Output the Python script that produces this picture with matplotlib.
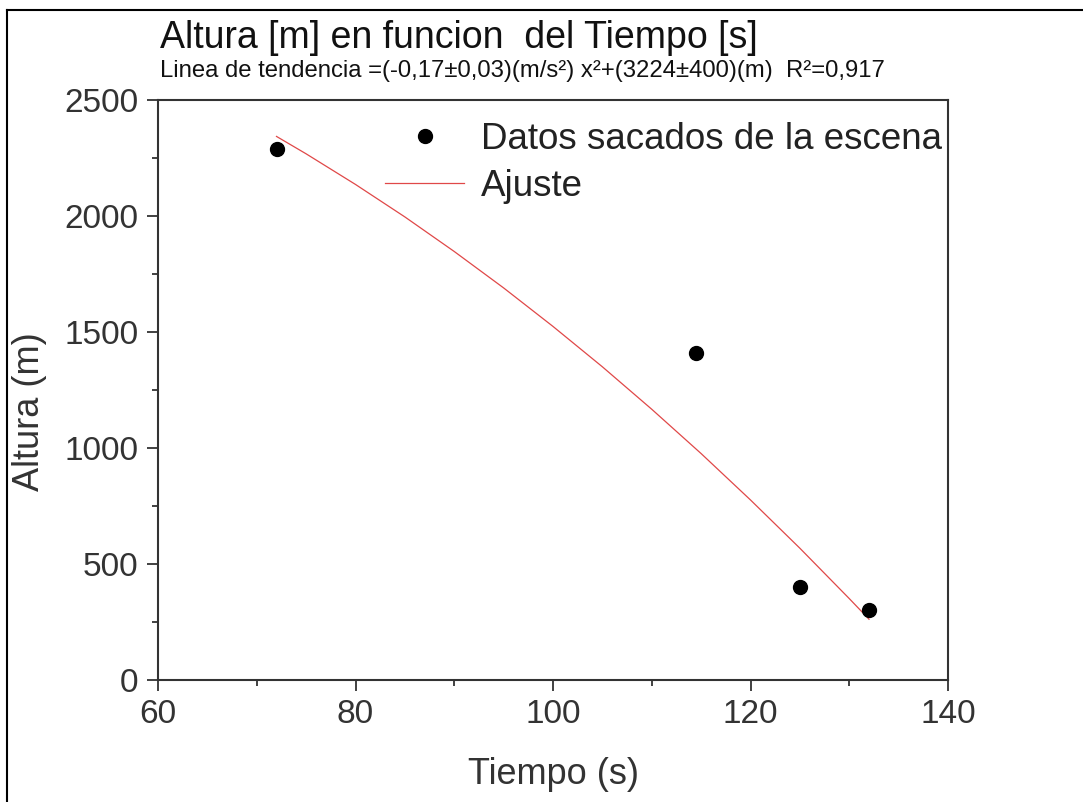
import numpy as np
import matplotlib.pyplot as plt
from matplotlib.lines import Line2D

# data
tiempo = [72, 114.5, 125, 132]
altura = [2290, 1410, 400, 300]

# fitted curve
t_fit = [72, 75, 80, 85, 90, 95, 100, 105, 110, 115, 120, 125, 130, 132]
h_fit = [2343, 2268, 2136, 1996, 1847, 1690, 1524, 1350, 1167, 976, 776, 568, 351, 262]

xticks = [60, 80, 100, 120, 140]
yticks = [0, 500, 1000, 1500, 2000, 2500]

titulo = 'Altura [m] en funcion  del Tiempo [s]'
subtitulo = 'Linea de tendencia =(-0,17\u00b10,03)(m/s\u00b2) x\u00b2+(3224\u00b1400)(m)  R\u00b2=0,917'

plt.rcParams['font.family'] = ['Liberation Sans', 'DejaVu Sans']

fig = plt.figure(figsize=(10.83, 8.02), dpi=100)
ax = fig.add_axes([158/1083, 1-680/802, 790/1083, 580/802])

ax.plot(tiempo, altura, 'o', color='black', markersize=10, label='Datos sacados de la escena', zorder=3)
ax.plot(t_fit, h_fit, '-', color='#e04848', linewidth=0.9, label='Ajuste')

ax.set_xlim(60, 140)
ax.set_ylim(0, 2500)
ax.set_xticks(xticks)
ax.set_yticks(yticks)
ax.set_xticks(np.arange(70, 140, 20), minor=True)
ax.set_yticks(np.arange(250, 2500, 500), minor=True)
ax.tick_params(which='major', direction='out', length=8, width=1.3, labelsize=24, pad=6, colors='#333333')
ax.tick_params(which='minor', direction='out', length=4.5, width=1.3, colors='#333333')
for s in ax.spines.values():
    s.set_linewidth(1.5)
    s.set_color('#333333')

ax.set_xlabel('Tiempo (s)', fontsize=26, color='#333333')
ax.set_ylabel('Altura (m)', fontsize=26, color='#333333')
ax.xaxis.set_label_coords(0.5, -(775-680)/580, transform=ax.transAxes)
ax.yaxis.set_label_coords(-(158-30)/790, (680-412)/580)
ax.xaxis.label.set_va('center')
ax.yaxis.label.set_va('center')

ax.legend(loc='upper left', bbox_to_anchor=((385-158)/790, (680-122)/580), frameon=False, fontsize=26.5,
          handlelength=2.15, handletextpad=0.45, labelspacing=0.33, borderaxespad=0, borderpad=0,
          labelcolor='#222222')

fig.text(160/1083, 1-38/802, titulo, fontsize=27, va='center', ha='left', color='#111111')
fig.text(160/1083, 1-71/802, subtitulo, fontsize=17.2, va='center', ha='left', color='#111111')

# outer frame (top and left only)
fig.add_artist(Line2D([7/1083, 7/1083], [0, 1-10/802], color='black', linewidth=1.5, transform=fig.transFigure))
fig.add_artist(Line2D([7/1083, 1], [1-10/802, 1-10/802], color='black', linewidth=1.5, transform=fig.transFigure))

fig.savefig('out.png', dpi=100)
